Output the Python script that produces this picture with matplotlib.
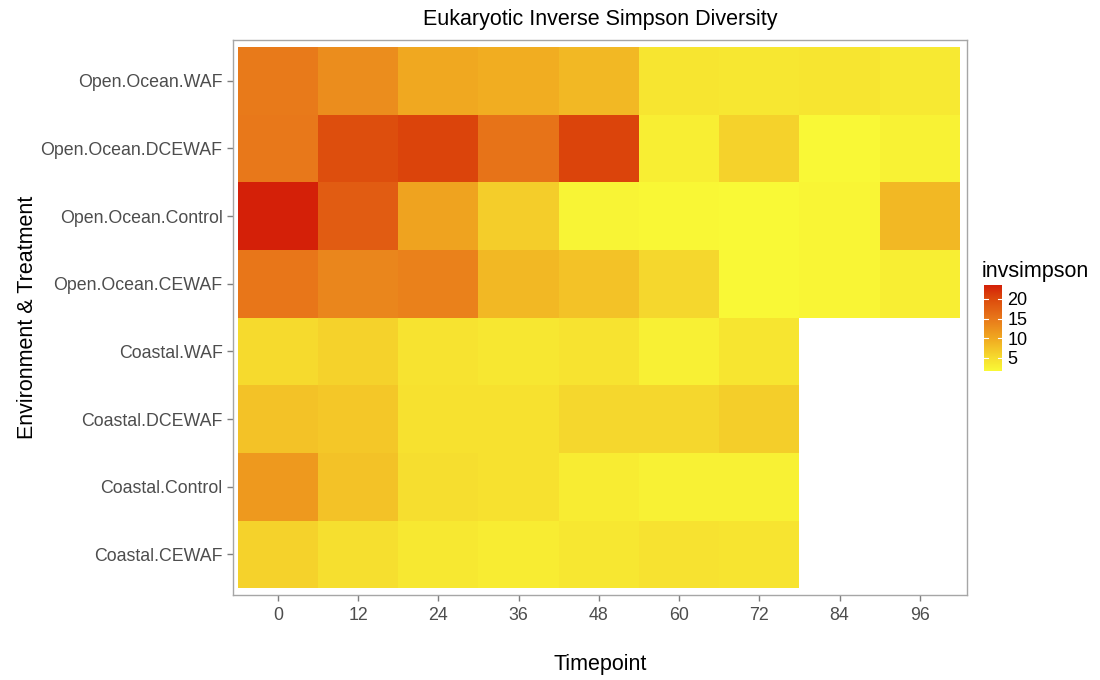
import numpy as np
import matplotlib
matplotlib.use("Agg")
import matplotlib.pyplot as plt
from matplotlib.colors import LinearSegmentedColormap

plt.rcParams['font.family'] = ['Liberation Sans', 'DejaVu Sans']

timepoints = [0, 12, 24, 36, 48, 60, 72, 84, 96]
groups = ["Coastal.CEWAF", "Coastal.Control", "Coastal.DCEWAF", "Coastal.WAF",
          "Open.Ocean.CEWAF", "Open.Ocean.Control", "Open.Ocean.DCEWAF", "Open.Ocean.WAF"]

nan = np.nan
# inverse Simpson index per group (rows) and timepoint (columns)
coastal_cewaf = [6.0, 4.6, 3.6, 3.2, 3.8, 4.3, 4.1, nan, nan]
coastal_control = [11.5, 7.5, 4.8, 4.5, 3.2, 2.7, 2.7, nan, nan]
coastal_dcewaf = [7.5, 7.0, 4.5, 4.5, 5.5, 5.5, 6.3, nan, nan]
coastal_waf = [5.2, 6.0, 4.2, 3.8, 4.2, 2.8, 4.0, nan, nan]
ocean_cewaf = [15.2, 13.6, 14.0, 8.5, 7.5, 5.5, 1.8, 2.2, 3.0]
ocean_control = [23.5, 18.0, 10.5, 6.5, 2.3, 2.0, 1.7, 2.2, 8.5]
ocean_dcewaf = [15.0, 19.5, 20.5, 15.5, 20.5, 3.0, 6.0, 1.8, 2.5]
ocean_waf = [14.8, 12.8, 10.0, 9.5, 8.5, 4.0, 3.8, 4.0, 3.5]

invsimpson = np.ma.masked_invalid(np.array([
    coastal_cewaf, coastal_control, coastal_dcewaf, coastal_waf,
    ocean_cewaf, ocean_control, ocean_dcewaf, ocean_waf]))

vmin, vmax = 1.7, 23.5
stops = [(1.7, "#F9F936"), (5, "#F6DC2E"), (10, "#F0A820"),
         (15, "#E8781A"), (20, "#DC4A0C"), (23.5, "#D42008")]
cmap = LinearSegmentedColormap.from_list(
    "ylrd", [((v - vmin) / (vmax - vmin), c) for v, c in stops])

fig = plt.figure(figsize=(11, 6.8), dpi=100)
ax = fig.add_axes([0.2118, 0.125, 0.667, 0.816])

xedges = np.array(timepoints + [108]) - 6
yedges = np.arange(len(groups) + 1) - 0.5
mesh = ax.pcolormesh(xedges, yedges, invsimpson, cmap=cmap, vmin=vmin, vmax=vmax)

ax.set_xlim(-6.7, 103)
ax.set_ylim(-0.6, 7.6)
ax.set_xticks(timepoints)
ax.set_xticklabels([str(t) for t in timepoints])
ax.set_yticks(range(len(groups)))
ax.set_yticklabels(groups)
ax.tick_params(colors="#7F7F7F", labelcolor="#4D4D4D", labelsize=12.8, length=4, width=1)
ax.tick_params(axis="x", pad=5)
for s in ax.spines.values():
    s.set_color("#A6A6A6")
    s.set_linewidth(1)

ax.set_title("Eukaryotic Inverse Simpson Diversity", fontsize=15.5, pad=11)
ax.set_xlabel("Timepoint", fontsize=15.5, labelpad=21)
ax.set_ylabel("Environment & Treatment", fontsize=15.5, labelpad=2)

cax = fig.add_axes([984 / 1100, 1 - 371 / 680, 18 / 1100, 86 / 680])
cb = fig.colorbar(mesh, cax=cax, ticks=[5, 10, 15, 20])
cb.outline.set_visible(False)
cb.ax.tick_params(labelsize=13, length=0, pad=4)
for t in [5, 10, 15, 20]:
    cax.plot([0, 0.22], [t, t], color="white", lw=0.8, transform=cax.get_yaxis_transform())
    cax.plot([0.78, 1], [t, t], color="white", lw=0.8, transform=cax.get_yaxis_transform())
fig.text(982 / 1100, 1 - 272 / 680, "invsimpson", fontsize=15.5, va="center", ha="left")

fig.savefig("out.png", dpi=100)
